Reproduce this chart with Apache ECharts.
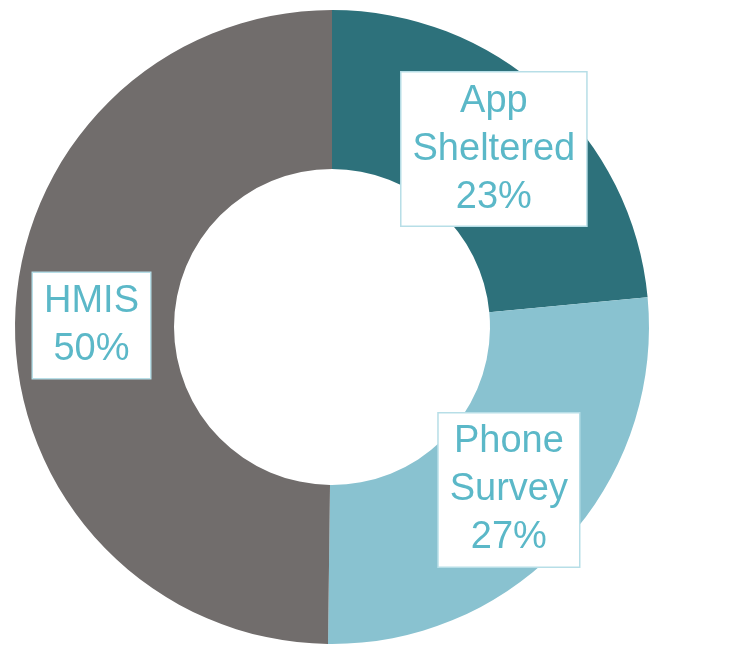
<!DOCTYPE html>
<html><head><meta charset="utf-8">
<script src="https://cdn.jsdelivr.net/npm/echarts@6/dist/echarts.min.js"></script>
<style>html,body{margin:0;padding:0;background:#fff}#c{width:744px;height:648px}</style>
</head><body><div id="c"></div>
<script>
const categories = ['App\nSheltered', 'Phone\nSurvey', 'HMIS'];
const values = [23.5, 26.7, 49.8];
const percentLabels = ['23%', '27%', '50%'];
const colors = ['#2D717B', '#89C2D0', '#716D6C'];

const chart = echarts.init(document.getElementById('c'), null, {renderer: 'canvas'});
chart.setOption({
  animation: false,
  series: [{
    type: 'pie',
    center: [332, 327],
    radius: [158, 317],
    startAngle: 90,
    clockwise: true,
    data: categories.map((n, i) => ({name: n, value: values[i], itemStyle: {color: colors[i]}})),
    label: {
      show: true,
      position: 'inside',
      formatter: p => categories[p.dataIndex] + '\n' + percentLabels[p.dataIndex],
      color: '#5BB8C8',
      fontFamily: 'Liberation Sans',
      fontSize: 38,
      lineHeight: 48,
      backgroundColor: '#fff',
      borderColor: '#B7DEE7',
      borderWidth: 1.5,
      padding: [7, 11, 2, 11]
    },
    labelLine: {show: false},
    emphasis: {disabled: true}
  }]
});
</script></body></html>
